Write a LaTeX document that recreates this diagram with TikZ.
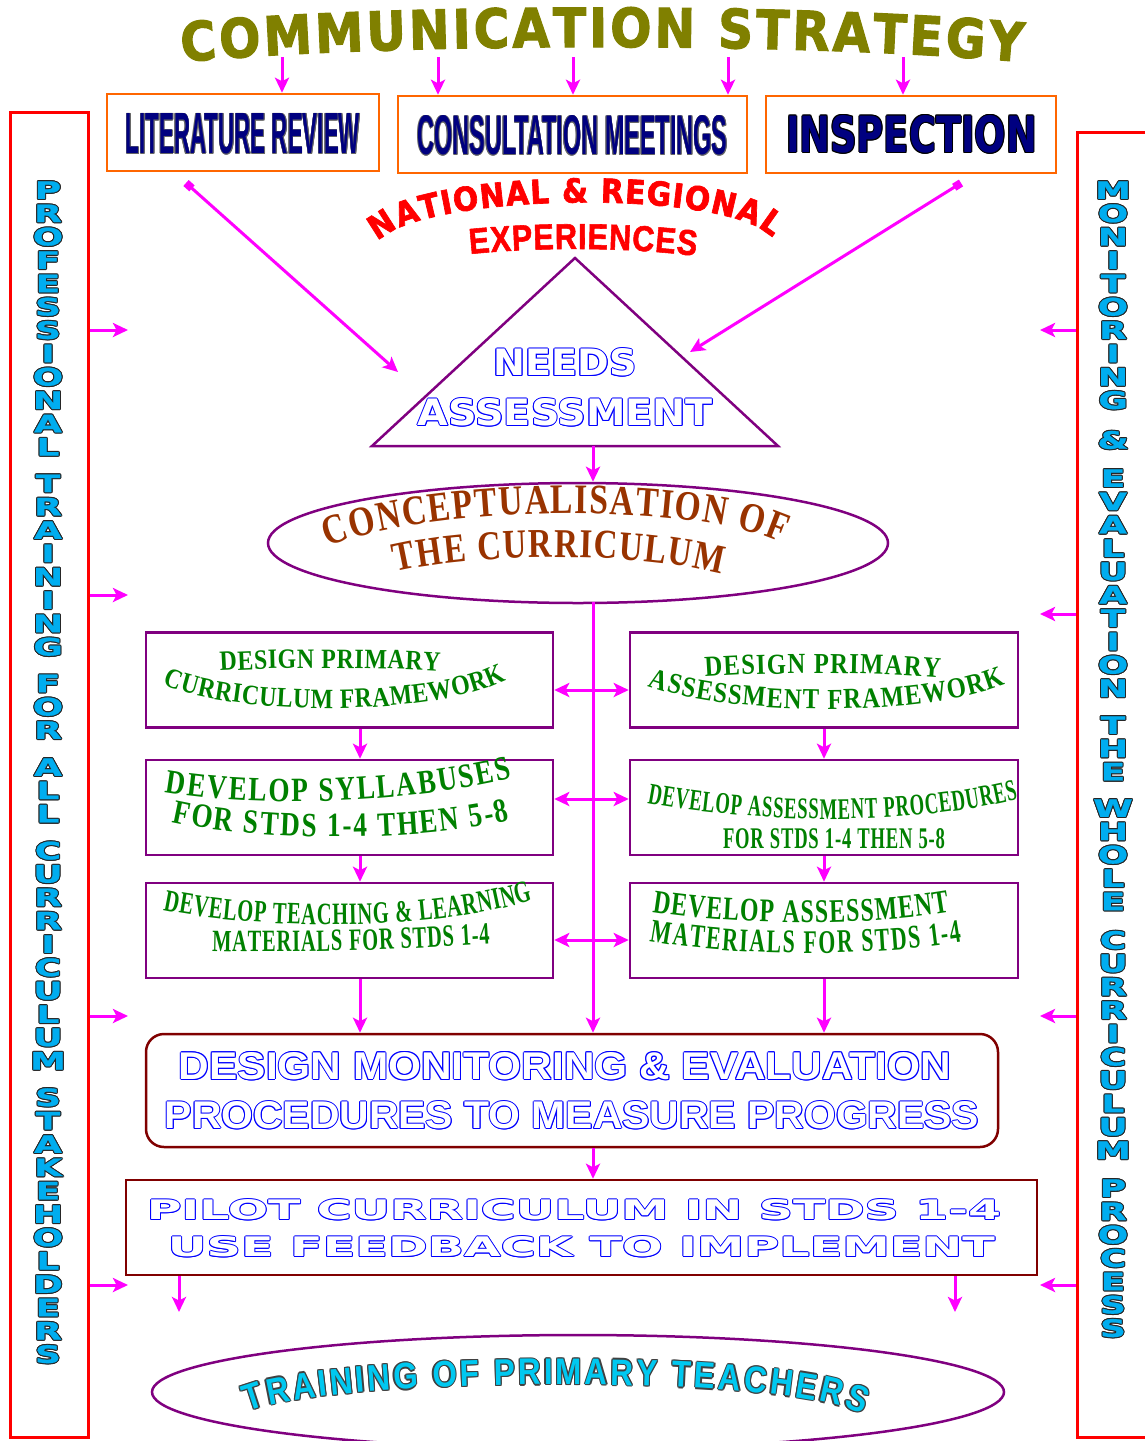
\documentclass[tikz,border=0pt]{standalone}
\usepackage{fontspec}
\usepackage{graphicx}
\usetikzlibrary{arrows.meta,decorations.text,shapes.geometric}

\setmainfont{Liberation Serif}
\newfontfamily\sansfam{Liberation Sans}
\newfontfamily\dejafam{DejaVu Sans}
% bold faces, horizontally scaled, for the curved captions
\newfontfamily\sansheavy{Liberation Sans}[FakeStretch=0.85, FakeBold=1.5, UprightFont={* Bold}]
\newfontfamily\sansnarrow{Liberation Sans}[FakeStretch=0.85, UprightFont={* Bold}]
\newfontfamily\dejaheavy{DejaVu Sans}[FakeStretch=0.9, FakeBold=2, UprightFont={* Bold}]
\newfontfamily\dejawide{DejaVu Sans}[FakeStretch=1.5, FakeBold=1, UprightFont={* Bold}]
\newfontfamily\serifA{Liberation Serif}[FakeStretch=0.85, UprightFont={* Bold}]
\newfontfamily\serifB{Liberation Serif}[FakeStretch=0.8, UprightFont={* Bold}]
\newfontfamily\serifC{Liberation Serif}[FakeStretch=0.72, UprightFont={* Bold}]
\newfontfamily\serifD{Liberation Serif}[FakeStretch=0.66, UprightFont={* Bold}]
\newfontfamily\serifE{Liberation Serif}[FakeStretch=0.62, UprightFont={* Bold}]

\definecolor{mag}{RGB}{255,0,255}
\definecolor{purp}{RGB}{128,0,128}
\definecolor{orng}{RGB}{255,102,0}
\definecolor{maroonb}{RGB}{128,0,0}
\definecolor{navyb}{RGB}{0,0,128}
\definecolor{olivet}{RGB}{128,128,0}
\definecolor{greent}{RGB}{0,128,0}
\definecolor{brownt}{RGB}{153,51,0}
\definecolor{skyt}{RGB}{0,200,240}
\definecolor{redbar}{RGB}{255,0,0}

\newcommand\fsz[1]{\fontsize{#1}{#1}\selectfont}

% outlined text: the text in the outline colour shifted round a small
% circle, then the text in the fill colour on top
\newlength\olr
\newcommand\outl[4]{{\setlength\olr{#3}\setbox0=\hbox{#4}%
  \rlap{\color{#1}%
    \rlap{\kern\olr\copy0}\rlap{\kern-\olr\copy0}%
    \rlap{\raise\olr\copy0}\rlap{\lower\olr\copy0}%
    \rlap{\kern.7\olr\raise.7\olr\copy0}\rlap{\kern-.7\olr\raise.7\olr\copy0}%
    \rlap{\kern.7\olr\lower.7\olr\copy0}\rlap{\kern-.7\olr\lower.7\olr\copy0}}%
  {\color{#2}\copy0}}}

% fonts for the curved captions
\newcommand\titlef{\color{olivet}\dejaheavy\fsz{54}}
\newcommand\natf{\color{redbar}\dejaheavy\fsz{33}}
\newcommand\expf{\color{redbar}\sansheavy\fsz{36}}
\newcommand\conf{\color{brownt}\serifB\fsz{42}}
\newcommand\contf{\color{brownt}\serifB\fsz{41}}
\newcommand\gAf{\color{greent}\serifA\fsz{28}}
\newcommand\gAAf{\color{greent}\serifA\fsz{29}}
\newcommand\gBf{\color{greent}\serifB\fsz{34}}
\newcommand\gCf{\color{greent}\serifC\fsz{33}}
\newcommand\gDf{\color{greent}\serifD\fsz{31}}
\newcommand\gDDf{\color{greent}\serifD\fsz{33}}
\newcommand\gEf{\color{greent}\serifE\fsz{30}}
\newcommand\trainout{\color{black!75}\sansnarrow\fsz{37}}
\newcommand\trainin{\color{skyt}\sansnarrow\fsz{37}}

% one column of upright letters, top to bottom
\newcommand\vword[4]{%
  \foreach \c [count=\i from 0] in {#4}
    \node[vlet] (#1-\i) at (#2,#3+\i*23.35)
      {\outl{black!85}{cyan}{1.1pt}{\c}};}

\begin{document}
\begin{tikzpicture}[x=1pt,y=-1pt,
  tip/.tip={Stealth[length=15pt,width=14pt,inset=3.5pt]},
  arr/.style={draw=mag, line width=3pt, -tip},
  dbl/.style={draw=mag, line width=3pt, tip-tip},
  diag/.style={draw=mag, line width=3pt, {Square[length=8pt,width=8pt]}-tip},
  bar/.style={draw=redbar, line width=3pt, inner sep=0pt},
  topbox/.style={draw=orng, line width=2.5pt, minimum height=77pt, inner sep=0pt},
  gbox/.style={draw=purp, line width=2.5pt, minimum height=95pt, inner sep=0pt},
  lbox/.style={gbox, minimum width=407pt},
  rbox/.style={gbox, minimum width=388pt},
  oval/.style={draw=purp, line width=2.5pt, ellipse, inner sep=0pt},
  mbox/.style={draw=maroonb, line width=2.5pt, inner sep=0pt},
  vlet/.style={inner sep=0pt, font=\dejawide\fsz{24}},
  plain/.style={inner sep=0pt},
  curve text/.style 2 args={decorate, decoration={text along path,
      text={|#1|#2}, text align={fit to path}}}]

\clip (0,0) rectangle (1145,1441);
\fill[white] (0,0) rectangle (1145,1441);

% side bars
\node[bar, minimum width=78pt, minimum height=1325pt] (lbar) at (49,774.5) {};
\node[bar, minimum width=83pt, minimum height=1305pt] (rbar) at (1118.5,784.5) {};

\vword{pa}{48}{190}{P,R,O,F,E,S,S,I,O,N,A,L}
\vword{pb}{48}{483.3}{T,R,A,I,N,I,N,G}
\vword{pc}{48}{683.4}{F,O,R}
\vword{pd}{48}{767}{A,L,L}
\vword{pe}{48}{850.6}{C,U,R,R,I,C,U,L,U,M}
\vword{pf}{48}{1097.3}{S,T,A,K,E,H,O,L,D,E,R,S}

\vword{ma}{1113}{190}{M,O,N,I,T,O,R,I,N,G}
\vword{mb}{1113}{440}{\&}
\vword{mc}{1113}{478}{E,V,A,L,U,A,T,I,O,N}
\vword{md}{1113}{725}{T,H,E}
\vword{me}{1113}{808}{W,H,O,L,E}
\vword{mf}{1113}{940}{C,U,R,R,I,C,U,L,U,M}
\vword{mg}{1113}{1188}{P,R,O,C,E,S,S}

% title
\path[curve text={\titlef}{COMMUNICATION STRATEGY}]
  (182,62) .. controls (400,42) and (800,42) .. (1022,62);

% top boxes
\node[topbox, minimum width=272pt] (lit) at (243,132.5) {};
\node[topbox, minimum width=349pt] (cons) at (572.5,134.5) {};
\node[topbox, minimum width=290pt] (insp) at (911,134.5) {};
\node[plain] (littxt) at (243,134)
  {\outl{black!60}{navyb}{0.6pt}{\resizebox{234pt}{40pt}{\sansfam\bfseries LITERATURE REVIEW}}};
\node[plain] (constxt) at (572.5,135.5)
  {\outl{black!60}{navyb}{0.6pt}{\resizebox{310pt}{39pt}{\sansfam\bfseries CONSULTATION MEETINGS}}};
\node[plain] (insptxt) at (911.5,134.5)
  {\outl{black}{navyb}{1pt}{\resizebox{251pt}{37pt}{\dejafam\bfseries INSPECTION}}};

\foreach \x [count=\k] in {282,438,573,728,903}
  \coordinate (s\k) at (\x,57);
\draw[arr] (s1) -- (s1 |- lit.north);
\draw[arr] (s2) -- (s2 |- cons.north);
\draw[arr] (s3) -- (s3 |- cons.north);
\draw[arr] (s4) -- (s4 |- cons.north);
\draw[arr] (s5) -- (s5 |- insp.north);

% national & regional experiences
\path[curve text={\natf}{NATIONAL {\&} REGIONAL}]
  (378,242) .. controls (420,192) and (730,188) .. (772,238);
\path[curve text={\expf}{EXPERIENCES}]
  (470,254) .. controls (540,247) and (625,247) .. (696,256);

% needs assessment triangle
\coordinate (ta) at (575,258);
\coordinate (tl) at (372,446);
\coordinate (tr) at (778,446);
\draw[purp, line width=2.5pt, line join=miter] (ta) -- (tl) -- (tr) -- cycle;
\node[plain] (needs) at (565,362.5)
  {\outl{blue}{white}{1pt}{\resizebox{143pt}{27pt}{\dejafam\bfseries NEEDS}}};
\node[plain] (assess) at (565.5,412.5)
  {\outl{blue}{white}{1pt}{\resizebox{295pt}{27pt}{\dejafam\bfseries ASSESSMENT}}};

\coordinate (d1) at (186,183);
\coordinate (d2) at (398,372);
\coordinate (d3) at (961,183);
\coordinate (d4) at (690,352);
\draw[diag] (d1) -- (d2);
\draw[diag] (d3) -- (d4);

% conceptualisation
\node[oval, minimum width=620pt, minimum height=120pt] (concept) at (578,543) {};
\path[curve text={\conf}{CONCEPTUALISATION OF}]
  (328,547) .. controls (430,505) and (690,501) .. (782,543);
\path[curve text={\contf}{THE CURRICULUM}]
  (396,572) .. controls (480,552) and (640,552) .. (722,574);
\coordinate (tb) at (593,446);
\draw[arr] (tb) -- (tb |- concept.north);

% design boxes
\node[lbox] (L1) at (349.5,680) {};
\node[lbox] (L2) at (349.5,807.5) {};
\node[lbox] (L3) at (349.5,930.5) {};
\node[rbox] (R1) at (824,680) {};
\node[rbox] (R2) at (824,807.5) {};
\node[rbox] (R3) at (824,930.5) {};

\path[curve text={\gAf}{DESIGN PRIMARY}]
  (220,671) .. controls (290,667) and (370,667) .. (440,671);
\path[curve text={\gAf}{CURRICULUM FRAMEWORK}]
  (163,684) .. controls (230,716) and (430,718) .. (506,680);
\path[curve text={\gAAf}{DESIGN PRIMARY}]
  (705,677) .. controls (780,672) and (865,672) .. (940,678);
\path[curve text={\gAAf}{ASSESSMENT FRAMEWORK}]
  (648,686) .. controls (730,716) and (920,718) .. (1005,684);
\path[curve text={\gBf}{DEVELOP SYLLABUSES}]
  (165,792) .. controls (270,810) and (420,801) .. (512,778);
\path[curve text={\gBf}{FOR STDS 1-4 THEN 5-8}]
  (172,822) .. controls (260,842) and (420,842) .. (510,820);
\path[curve text={\gEf}{DEVELOP ASSESSMENT PROCEDURES}]
  (647,803) .. controls (760,824) and (910,826) .. (1018,799);
\path[curve text={\gEf}{FOR STDS 1-4 THEN 5-8}]
  (723,848) -- (945,848);
\path[curve text={\gDf}{DEVELOP TEACHING {\&} LEARNING}]
  (163,910) .. controls (260,930) and (430,932) .. (533,900);
\path[curve text={\gDf}{MATERIALS FOR STDS 1-4}]
  (212,951) .. controls (300,953) and (400,950) .. (490,944);
\path[curve text={\gCf}{DEVELOP ASSESSMENT}]
  (652,912) .. controls (740,926) and (870,926) .. (950,912);
\path[curve text={\gDDf}{MATERIALS FOR STDS 1-4}]
  (650,941) .. controls (740,958) and (880,956) .. (962,942);

\draw[arr] ([xshift=10.5pt]L1.south) -- ([xshift=10.5pt]L2.north);
\draw[arr] ([xshift=10.5pt]L2.south) -- ([xshift=10.5pt]L3.north);
\draw[arr] (R1.south) -- (R2.north);
\draw[arr] (R2.south) -- (R3.north);

% monitoring & evaluation, pilot
\node[mbox, rounded corners=18pt, minimum width=852pt, minimum height=113pt] (mande) at (572,1090.5) {};
\node[plain] (mande1) at (565,1066)
  {\outl{blue}{white}{1pt}{\resizebox{772pt}{27pt}{\sansfam\bfseries DESIGN MONITORING \& EVALUATION}}};
\node[plain] (mande2) at (572,1115.5)
  {\outl{blue}{white}{1pt}{\resizebox{814pt}{27pt}{\sansfam\bfseries PROCEDURES TO MEASURE PROGRESS}}};

\node[mbox, minimum width=911pt, minimum height=95pt] (pilot) at (581.5,1227.5) {};
\node[plain] (pilot1) at (574,1210)
  {\outl{blue}{white}{1pt}{\resizebox{854pt}{20pt}{\dejafam\bfseries PILOT CURRICULUM IN STDS 1-4}}};
\node[plain] (pilot2) at (581.5,1247)
  {\outl{blue}{white}{1pt}{\resizebox{827pt}{20pt}{\dejafam\bfseries USE FEEDBACK TO IMPLEMENT}}};

% central spine and cross links
\coordinate (sp) at (593,602);
\draw[arr] (sp) -- (sp |- mande.north);
\draw[dbl] ([yshift=-10pt]L1.east) -- ([yshift=-10pt]R1.west);
\draw[dbl] ([yshift=8.5pt]L2.east) -- ([yshift=8.5pt]R2.west);
\draw[dbl] ([yshift=-9.5pt]L3.east) -- ([yshift=-9.5pt]R3.west);
\draw[arr] ([xshift=10.5pt]L3.south) -- ([xshift=10.5pt]L3.south |- mande.north);
\draw[arr] (R3.south) -- (R3.south |- mande.north);
\draw[arr] (mande.south -| sp) -- (pilot.north -| sp);

% training
\node[oval, minimum width=852pt, minimum height=114pt] (train) at (578,1392) {};
\foreach \dx/\dy in {1.2/0,-1.2/0,0/1.2,0/-1.2,.85/.85,-.85/.85,.85/-.85,-.85/-.85}
  \path[curve text={\trainout}{TRAINING OF PRIMARY TEACHERS}, shift={(\dx pt,\dy pt)}]
    (248,1412) .. controls (320,1378) and (790,1372) .. (862,1415);
\path[curve text={\trainin}{TRAINING OF PRIMARY TEACHERS}]
  (248,1412) .. controls (320,1378) and (790,1372) .. (862,1415);

\coordinate (pa) at (179,1312);
\coordinate (pb) at (955,1312);
\draw[arr] (pa |- pilot.south) -- (pa);
\draw[arr] (pb |- pilot.south) -- (pb);

% arrows from the side bars
\foreach \y [count=\k] in {330,595,1016,1285} {
  \coordinate (lf\k) at (128,\y);
  \draw[arr] (lbar.east |- lf\k) -- (lf\k);
}
\foreach \y [count=\k] in {330,614,1016,1285} {
  \coordinate (rf\k) at (1040,\y);
  \draw[arr] (rbar.west |- rf\k) -- (rf\k);
}
\end{tikzpicture}
\end{document}
